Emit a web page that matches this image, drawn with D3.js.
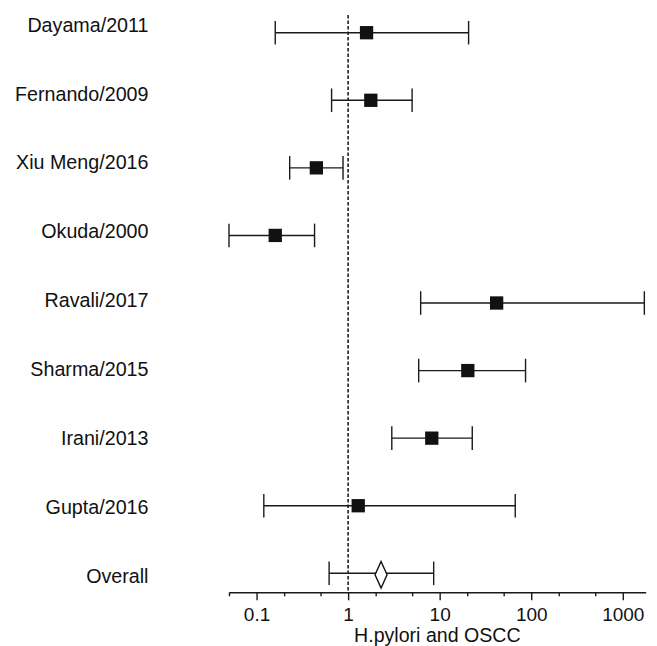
<!DOCTYPE html>
<html lang="en">

<head>
    <meta charset="UTF-8">
    <title>H.pylori and OSCC</title>
    <script src="https://d3js.org/d3.v7.min.js"></script>
    <style>
        body {
            margin: 0;
            padding: 0;
            background: #fff;
            font-family: Arial, "Liberation Sans", sans-serif;
        }
    </style>
</head>

<body>
    <div id="chart"></div>
    <script>
        // Study labels and odds ratios
        const studies = ['Dayama/2011', 'Fernando/2009', 'Xiu Meng/2016', 'Okuda/2000',
            'Ravali/2017', 'Sharma/2015', 'Irani/2013', 'Gupta/2016'];
        const estimate = [1.59, 1.77, 0.45, 0.16, 41.9, 20.3, 8.2, 1.29];
        const lower = [0.16, 0.66, 0.23, 0.05, 6.2, 5.9, 3.0, 0.12];
        const upper = [20.7, 5.0, 0.88, 0.43, 1720, 86.7, 22.7, 66.9];

        const overallLabel = 'Overall';
        const overall = { est: 2.29, lo: 0.62, hi: 8.6 };

        const majorTicks = [0.1, 1, 10, 100, 1000];
        const minorTicks = [0.05, 0.2, 0.5, 2, 5, 20, 50, 200, 500];
        const axisTitle = 'H.pylori and OSCC';

        const width = 657, height = 646;
        const axisY = 592.3;
        const ink = '#1a1a1a';

        const svg = d3.select('#chart').append('svg')
            .attr('width', width)
            .attr('height', height);

        const x = d3.scaleLog()
            .domain([0.05, 1780])
            .range([229, 645.7]);

        const rows = studies.concat([overallLabel]);
        const y = d3.scalePoint().domain(rows).range([32.7, 573.3]);
        // labels sit on a slightly wider spacing than the marks
        const yLabel = d3.scalePoint().domain(rows).range([31.7, 582.7]);

        // reference line at OR = 1
        svg.append('line')
            .attr('x1', x(1)).attr('x2', x(1))
            .attr('y1', 15).attr('y2', axisY)
            .attr('stroke', '#111')
            .attr('stroke-width', 1.5)
            .attr('stroke-dasharray', '3.5,2');

        // minor ticks
        svg.append('g')
            .attr('transform', `translate(0,${axisY})`)
            .call(d3.axisBottom(x).tickValues(minorTicks).tickSize(4).tickSizeOuter(0).tickFormat(''))
            .call(g => g.select('.domain').remove())
            .call(g => g.selectAll('line').attr('stroke', ink).attr('stroke-width', 1.4));

        // major ticks + labels
        svg.append('g')
            .attr('transform', `translate(0,${axisY})`)
            .call(d3.axisBottom(x).tickValues(majorTicks).tickSize(8).tickSizeOuter(0)
                .tickPadding(6.9).tickFormat(d => String(d)))
            .call(g => g.select('.domain').attr('stroke', ink).attr('stroke-width', 1.4))
            .call(g => g.selectAll('line').attr('stroke', ink).attr('stroke-width', 1.4))
            .call(g => g.selectAll('text')
                .attr('font-family', 'Arial, "Liberation Sans", sans-serif')
                .attr('font-size', 19)
                .attr('fill', '#111'));

        svg.append('text')
            .attr('x', (x.range()[0] + x.range()[1]) / 2)
            .attr('y', 642.3)
            .attr('text-anchor', 'middle')
            .attr('font-size', 19.6)
            .attr('fill', '#111')
            .text(axisTitle);

        // row labels
        svg.append('g').selectAll('text')
            .data(rows)
            .join('text')
            .attr('x', 148.5)
            .attr('y', d => yLabel(d))
            .attr('text-anchor', 'end')
            .attr('font-size', 19.7)
            .attr('fill', '#111')
            .text(d => d);

        const capH = 11.8;
        const box = 13.3;

        const studyData = studies.map((s, i) => ({ name: s, est: estimate[i], lo: lower[i], hi: upper[i] }));

        const g = svg.append('g')
            .selectAll('g')
            .data(studyData)
            .join('g');

        g.append('line')
            .attr('x1', d => x(d.lo)).attr('x2', d => x(d.hi))
            .attr('y1', d => y(d.name)).attr('y2', d => y(d.name))
            .attr('stroke', ink).attr('stroke-width', 1.4);

        g.append('line')
            .attr('x1', d => x(d.lo)).attr('x2', d => x(d.lo))
            .attr('y1', d => y(d.name) - capH).attr('y2', d => y(d.name) + capH)
            .attr('stroke', ink).attr('stroke-width', 1.4);

        g.append('line')
            .attr('x1', d => x(d.hi)).attr('x2', d => x(d.hi))
            .attr('y1', d => y(d.name) - capH).attr('y2', d => y(d.name) + capH)
            .attr('stroke', ink).attr('stroke-width', 1.4);

        g.append('rect')
            .attr('x', d => x(d.est) - box / 2)
            .attr('y', d => y(d.name) - box / 2)
            .attr('width', box).attr('height', box)
            .attr('fill', '#111');

        // overall estimate
        const oy = y(overallLabel);
        const og = svg.append('g');
        og.append('line')
            .attr('x1', x(overall.lo)).attr('x2', x(overall.hi))
            .attr('y1', oy).attr('y2', oy)
            .attr('stroke', ink).attr('stroke-width', 1.4);
        [overall.lo, overall.hi].forEach(v => {
            og.append('line')
                .attr('x1', x(v)).attr('x2', x(v))
                .attr('y1', oy - capH).attr('y2', oy + capH)
                .attr('stroke', ink).attr('stroke-width', 1.4);
        });
        const cx = x(overall.est), cy = oy + 1.5;
        og.append('path')
            .attr('d', `M${cx},${cy - 13.3}L${cx + 6},${cy}L${cx},${cy + 13.3}L${cx - 6},${cy}Z`)
            .attr('fill', '#fff')
            .attr('stroke', '#111')
            .attr('stroke-width', 1.4);
    </script>
</body>

</html>
